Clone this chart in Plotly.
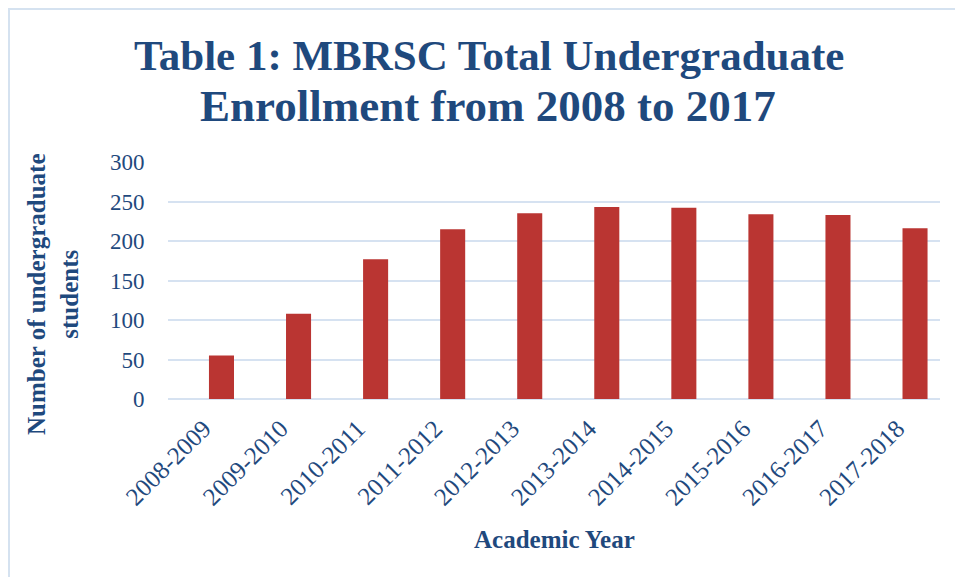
import plotly.graph_objects as go

# ---- data ----
years = ["2008-2009", "2009-2010", "2010-2011", "2011-2012", "2012-2013",
         "2013-2014", "2014-2015", "2015-2016", "2016-2017", "2017-2018"]
students = [55, 108, 177, 215, 235, 243, 242, 234, 233, 216]
y_ticks = [0, 50, 100, 150, 200, 250, 300]

title_line1 = "Table 1: MBRSC Total Undergraduate"
title_line2 = "Enrollment from 2008 to 2017"
y_title = "Number of undergraduate<br>students"
x_title = "Academic Year"

W, H = 955, 577
L, R, T, B = 168, 15, 162, 178
pw, ph = W - L - R, H - T - B

navy = "#1F497D"
grid = "#D6E2F1"
serif = "Liberation Serif, Times New Roman, serif"

x_range = [-0.694, 9.324]
label_shift = 0.23  # tick labels sit slightly left of the bar centres

fig = go.Figure()
fig.add_trace(go.Bar(
    x=years, y=students,
    marker=dict(color="#BA3532", line=dict(width=0)),
    width=0.325, hoverinfo="x+y",
))
# invisible companion trace that carries the tick labels
fig.add_trace(go.Scatter(
    x=years, y=students, xaxis="x2", mode="markers",
    marker=dict(opacity=0), hoverinfo="skip", showlegend=False,
))

def px_x(p):
    return (p - L) / pw

def px_y(p):
    return (H - B - p) / ph

fig.update_layout(
    width=W, height=H,
    margin=dict(l=L, r=R, t=T, b=B, pad=0),
    paper_bgcolor="white", plot_bgcolor="white",
    showlegend=False,
    xaxis=dict(
        type="category", range=x_range,
        showticklabels=False,
        showgrid=False, showline=False, zeroline=False,
    ),
    xaxis2=dict(
        type="category", overlaying="x", side="bottom", anchor="y",
        range=[x_range[0] + label_shift, x_range[1] + label_shift],
        tickangle=-45,
        tickfont=dict(family=serif, size=25, color=navy),
        showgrid=False, showline=False, zeroline=False,
        ticks="outside", ticklen=4, tickcolor="rgba(0,0,0,0)",
    ),
    yaxis=dict(
        range=[0, 300],
        tickvals=y_ticks,
        tickfont=dict(family=serif, size=23, color=navy),
        showgrid=True, gridcolor=grid, gridwidth=2,
        zeroline=True, zerolinecolor=grid, zerolinewidth=2,
        showline=False,
        ticks="outside", ticklen=18, tickcolor="rgba(0,0,0,0)",
    ),
    shapes=[dict(
        type="rect", xref="paper", yref="paper",
        x0=px_x(9), x1=px_x(W + 20), y0=px_y(H + 20), y1=px_y(9),
        line=dict(color="#D5E2F0", width=2), fillcolor="rgba(0,0,0,0)",
        layer="below",
    )],
    annotations=[
        dict(text=title_line1, xref="paper", yref="paper",
             x=px_x(489), y=px_y(56), xanchor="center", yanchor="middle",
             showarrow=False,
             font=dict(family=serif, size=43, color=navy, weight="bold")),
        dict(text=title_line2, xref="paper", yref="paper",
             x=px_x(488), y=px_y(106), xanchor="center", yanchor="middle",
             showarrow=False,
             font=dict(family=serif, size=45, color=navy, weight="bold")),
        dict(text=y_title, xref="paper", yref="paper",
             x=px_x(53), y=px_y(295), xanchor="center", yanchor="middle",
             textangle=-90, showarrow=False,
             font=dict(family=serif, size=25, color=navy, weight="bold")),
        dict(text=x_title, xref="paper", yref="paper",
             x=px_x(554), y=px_y(539), xanchor="center", yanchor="middle",
             showarrow=False,
             font=dict(family=serif, size=25, color=navy, weight="bold")),
    ],
)

fig.write_html("out.html", config={"displayModeBar": False},
               post_script="document.body.style.margin='0';")
